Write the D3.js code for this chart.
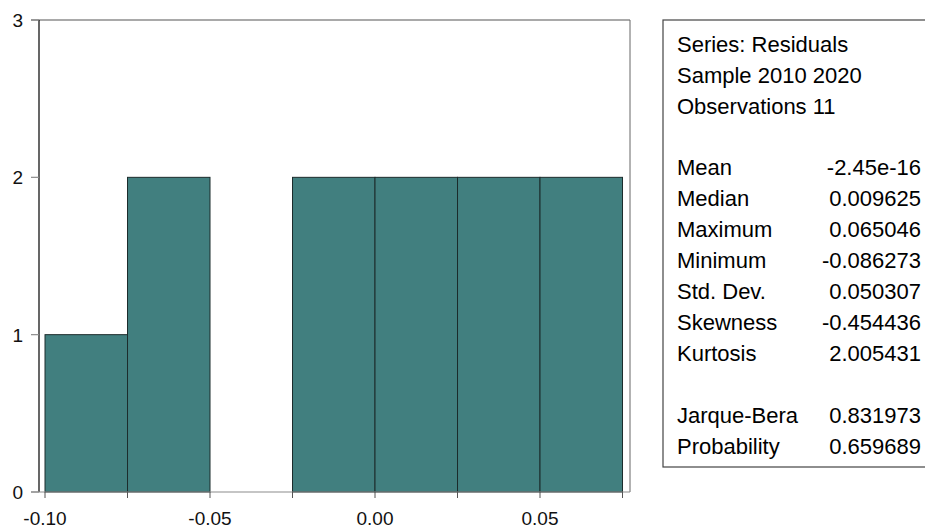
<!DOCTYPE html>
<html>
<head>
<meta charset="utf-8">
<script src="https://cdn.jsdelivr.net/npm/d3@7"></script>
<style>
  body { margin: 0; background: #fff; }
  text { font-family: "Liberation Sans", Arial, sans-serif; }
</style>
</head>
<body>
<script>
// histogram bins (residuals) and counts
const binStarts = [-0.100, -0.075, -0.050, -0.025, 0.000, 0.025, 0.050];
const binWidth = 0.025;
const counts = [1, 2, 0, 2, 2, 2, 2];

const xTicks = [-0.10, -0.05, 0.00, 0.05];
const xMinorTicks = [-0.10, -0.075, -0.05, -0.025, 0.00, 0.025, 0.05, 0.075];
const yTicks = [0, 1, 2, 3];

const headLines = ["Series: Residuals", "Sample 2010 2020", "Observations 11"];
const statNames = ["Mean", "Median", "Maximum", "Minimum", "Std. Dev.", "Skewness", "Kurtosis"];
const statValues = ["-2.45e-16", "0.009625", "0.065046", "-0.086273", "0.050307", "-0.454436", "2.005431"];
const testNames = ["Jarque-Bera", "Probability"];
const testValues = ["0.831973", "0.659689"];

const W = 925, H = 530;
const svg = d3.select("body").append("svg")
    .attr("width", W)
    .attr("height", H);

const x = d3.scaleLinear().domain([-0.10182, 0.07727]).range([39, 630]);
const y = d3.scaleLinear().domain([0, 3]).range([492, 20]);

// plain hyphen for negatives, like the original
const fmt = d => d3.format(".2f")(d).replace("\u2212", "-");

// bars
svg.selectAll("rect.bar")
    .data(binStarts.map((s, i) => ({s: s, c: counts[i]})).filter(d => d.c > 0))
    .enter().append("rect")
    .attr("class", "bar")
    .attr("x", d => x(d.s))
    .attr("y", d => y(d.c))
    .attr("width", d => x(d.s + binWidth) - x(d.s))
    .attr("height", d => y(0) - y(d.c))
    .style("fill", "#417f7f")
    .style("stroke", "#1c2c2c")
    .style("stroke-width", 1);

// frame: top and right gray, left black
svg.append("line")
    .attr("x1", 31).attr("x2", x.range()[1])
    .attr("y1", y(3)).attr("y2", y(3))
    .style("stroke", "#8c8c8c").style("stroke-width", 1.5);
svg.append("line")
    .attr("x1", x.range()[1]).attr("x2", x.range()[1])
    .attr("y1", y(3)).attr("y2", y(0))
    .style("stroke", "#666").style("stroke-width", 1);
svg.append("line")
    .attr("x1", x.range()[0]).attr("x2", x.range()[0])
    .attr("y1", y(3)).attr("y2", y(0))
    .style("stroke", "#000").style("stroke-width", 1.2);

// y axis ticks + labels
svg.selectAll("line.ytick")
    .data(yTicks).enter().append("line")
    .attr("x1", 31).attr("x2", x.range()[0])
    .attr("y1", d => y(d)).attr("y2", d => y(d))
    .style("stroke", "#8c8c8c").style("stroke-width", 1.2);
svg.selectAll("text.ylab")
    .data(yTicks).enter().append("text")
    .attr("x", 23)
    .attr("y", d => y(d) + 7)
    .attr("text-anchor", "end")
    .style("font-size", "19px")
    .style("fill", "#111")
    .text(d => d);

// x axis baseline
svg.append("line")
    .attr("x1", 31).attr("x2", x.range()[1])
    .attr("y1", y(0)).attr("y2", y(0))
    .style("stroke", "#8c8c8c").style("stroke-width", 1.2);

svg.selectAll("line.xtick")
    .data(xMinorTicks).enter().append("line")
    .attr("x1", d => x(d)).attr("x2", d => x(d))
    .attr("y1", y(0)).attr("y2", y(0) + 6)
    .style("stroke", "#555").style("stroke-width", 1);

svg.selectAll("text.xlab")
    .data(xTicks).enter().append("text")
    .attr("x", d => x(d))
    .attr("y", 525)
    .attr("text-anchor", "middle")
    .style("font-size", "19px")
    .style("fill", "#111")
    .text(fmt);

// stats box
const box = svg.append("g");
box.append("rect")
    .attr("x", 663).attr("y", 20)
    .attr("width", 300).attr("height", 447)
    .style("fill", "none")
    .style("stroke", "#444").style("stroke-width", 1.2);

const lx = 677, rx = 921, fs = "22px";
box.selectAll("text.head")
    .data(headLines).enter().append("text")
    .attr("x", lx).attr("y", (d, i) => 52 + i * 31)
    .style("font-size", fs)
    .text(d => d);

box.selectAll("text.sname")
    .data(statNames).enter().append("text")
    .attr("x", lx).attr("y", (d, i) => 175 + i * 31)
    .style("font-size", fs)
    .text(d => d);
box.selectAll("text.sval")
    .data(statValues).enter().append("text")
    .attr("x", rx).attr("y", (d, i) => 175 + i * 31)
    .attr("text-anchor", "end")
    .style("font-size", fs)
    .text(d => d);

box.selectAll("text.tname")
    .data(testNames).enter().append("text")
    .attr("x", lx).attr("y", (d, i) => 423 + i * 31)
    .style("font-size", fs)
    .text(d => d);
box.selectAll("text.tval")
    .data(testValues).enter().append("text")
    .attr("x", rx).attr("y", (d, i) => 423 + i * 31)
    .attr("text-anchor", "end")
    .style("font-size", fs)
    .text(d => d);
</script>
</body>
</html>
